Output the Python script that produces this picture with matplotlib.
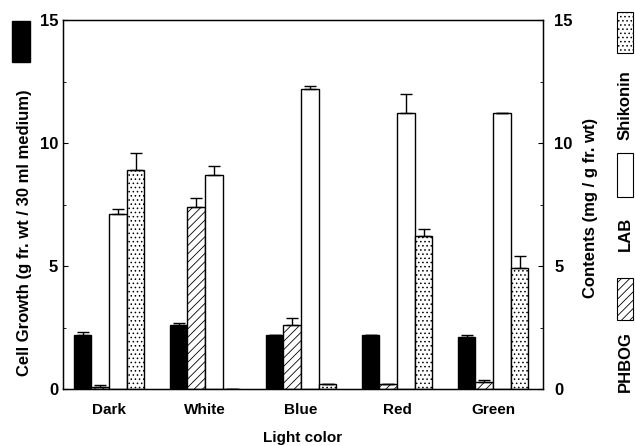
import matplotlib
matplotlib.use("Agg")
import matplotlib.pyplot as plt
from matplotlib.patches import Rectangle
import numpy as np

plt.rcParams['font.family'] = ['Liberation Sans', 'DejaVu Sans']
plt.rcParams['hatch.linewidth'] = 0.6

categories = ["Dark", "White", "Blue", "Red", "Green"]
cell_growth = [2.2, 2.6, 2.2, 2.2, 2.1]
cell_growth_err = [0.1, 0.1, 0.0, 0.0, 0.1]
phbog = [0.1, 7.4, 2.6, 0.2, 0.3]
phbog_err = [0.05, 0.35, 0.3, 0.0, 0.05]
lab = [7.1, 8.7, 12.2, 11.2, 11.2]
lab_err = [0.2, 0.35, 0.1, 0.8, 0.0]
shikonin = [8.9, 0.0, 0.2, 6.2, 4.9]
shikonin_err = [0.7, 0.0, 0.0, 0.3, 0.5]

fig = plt.figure(figsize=(6.35, 4.46), dpi=100)
ax = fig.add_axes([63/635, 1-389/446, 480/635, 369/446])

x = np.arange(len(categories))
w = 0.184
series = [
    (cell_growth, cell_growth_err, dict(color='black', edgecolor='black')),
    (phbog, phbog_err, dict(facecolor='white', edgecolor='black', hatch='////')),
    (lab, lab_err, dict(facecolor='white', edgecolor='black')),
    (shikonin, shikonin_err, dict(facecolor='white', edgecolor='black', hatch='....')),
]
for i, (vals, errs, style) in enumerate(series):
    pos = x + (i - 1.5) * w
    ax.bar(pos, vals, width=w, linewidth=1.0, **style, zorder=2)
    errs = np.array(errs)
    ax.errorbar(pos, vals, yerr=[np.zeros_like(errs), errs], fmt='none',
                ecolor='black', elinewidth=1.0, capsize=4, capthick=1.0, zorder=3)

ax.set_xlim(-0.48, 4.52)
ax.set_ylim(0, 15)
ax.set_yticks([0, 5, 10, 15])
ax.set_yticks([2.5, 7.5, 12.5], minor=True)
ax.set_xticks(x)
ax.set_xticklabels(categories, fontsize=11, fontweight='bold')
ax.tick_params(axis='x', length=0, pad=10)
ax.tick_params(axis='y', which='both', direction='in', labelsize=12, right=False)
for lab_ in ax.get_yticklabels():
    lab_.set_fontweight('bold')
ax.set_xlabel("Light color", fontsize=11, fontweight='bold', labelpad=10)
for s in ax.spines.values():
    s.set_linewidth(1.0)

ax2 = ax.twinx()
ax2.set_ylim(0, 15)
ax2.set_yticks([0, 5, 10, 15])
ax2.set_yticks([2.5, 7.5, 12.5], minor=True)
ax2.tick_params(axis='y', which='both', direction='in', labelsize=12, pad=8)
for lab_ in ax2.get_yticklabels():
    lab_.set_fontweight('bold')

# Left label with black swatch
fig.patches.append(Rectangle((12/635, 1-62/446), 18/635, 41/446, transform=fig.transFigure,
                             facecolor='black', edgecolor='black'))
fig.text(25/635, 1-233/446, "Cell Growth (g fr. wt / 30 ml medium)", rotation=90,
         ha='center', va='center', fontsize=12, fontweight='bold')

# Right label
fig.text(590/635, 1-208/446, "Contents (mg / g fr. wt)", rotation=90,
         ha='center', va='center', fontsize=12, fontweight='bold')

# Right legend (vertical)
lx = 625/635
fig.text(lx, 1-362/446, "PHBOG", rotation=90, ha='center', va='center', fontsize=12, fontweight='bold')
fig.patches.append(Rectangle((617/635, 1-320/446), 16/635, 42/446, transform=fig.transFigure,
                             facecolor='white', edgecolor='black', hatch='////', linewidth=0.8))
fig.text(lx, 1-234/446, "LAB", rotation=90, ha='center', va='center', fontsize=12, fontweight='bold')
fig.patches.append(Rectangle((617/635, 1-197/446), 16/635, 44/446, transform=fig.transFigure,
                             facecolor='white', edgecolor='black', linewidth=0.8))
fig.text(lx, 1-105/446, "Shikonin", rotation=90, ha='center', va='center', fontsize=12, fontweight='bold')
fig.patches.append(Rectangle((617/635, 1-53/446), 16/635, 41/446, transform=fig.transFigure,
                             facecolor='white', edgecolor='black', hatch='....', linewidth=0.8))

fig.savefig("out.png", dpi=100)
